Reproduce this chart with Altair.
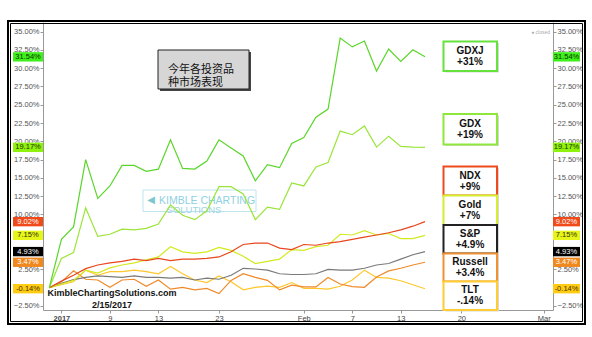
import altair as alt
import pandas as pd

# ---------------- data ----------------
day_index = list(range(32))
series_names = ["TLT", "Russell", "S&P", "Gold", "NDX", "GDX", "GDXJ"]
gdxj = [0, 6.6, 8.3, 17.5, 12.2, 13.9, 16.7, 16.7, 15.9, 16.2, 20.2, 16.3, 16.2, 17.3, 20.2, 19.1,
        18.0, 14.6, 16.8, 16.4, 19.7, 20.5, 23.3, 24.4, 34.1, 32.9, 33.7, 29.6, 32.6, 30.9, 32.5, 31.54]
gdx = [0, 4.0, 4.8, 10.9, 7.0, 7.3, 8.0, 7.9, 8.1, 8.7, 11.3, 9.9, 9.3, 10.5, 13.8, 13.8,
       12.8, 9.3, 11.0, 10.7, 14.3, 13.9, 16.5, 17.1, 21.4, 20.9, 22.1, 19.2, 20.7, 19.3, 19.2, 19.17]
ndx = [0, 0.9, 1.7, 2.6, 3.1, 3.4, 3.6, 3.9, 3.7, 4.0, 3.7, 3.9, 3.9, 4.0, 4.2, 4.9,
       5.9, 6.1, 6.1, 5.4, 5.2, 5.9, 5.8, 6.1, 6.3, 6.6, 6.9, 7.2, 7.5, 7.9, 8.4, 9.02]
gold = [0, 0.5, 1.0, 2.4, 2.0, 2.7, 3.1, 3.4, 3.8, 4.2, 5.6, 4.9, 4.7, 4.9, 5.5, 5.1,
        4.3, 3.3, 3.6, 3.9, 5.2, 5.1, 5.6, 5.8, 7.3, 7.2, 7.8, 7.2, 7.4, 6.7, 6.7, 7.15]
spx = [0, 0.6, 1.1, 1.4, 1.6, 1.5, 1.4, 1.6, 1.4, 1.4, 1.3, 1.4, 1.05, 1.3, 1.15, 1.7,
       2.65, 2.55, 2.4, 1.9, 1.8, 1.8, 1.9, 2.5, 2.4, 2.4, 2.65, 3.1, 3.3, 3.9, 4.5, 4.93]
rut = [0, 0.8, 2.3, 1.15, 1.05, 0.05, 1.05, 1.15, 0.2, 1.05, -0.2, 0.05, -0.3, -0.1, -0.8, 1.0,
       1.9, 1.4, 1.0, -0.3, 0.35, 0.1, 0.1, 1.4, 0.5, 0.15, 0.05, 1.45, 2.3, 2.65, 3.1, 3.47]
tlt = [0, 0.4, 0.8, 2.4, 1.7, 2.2, 2.2, 2.4, 2.2, 1.9, 2.9, 1.9, 1.05, 0.7, 1.6, 0.8,
       -0.3, 0.05, 0.2, 0.05, 0.7, -0.1, -0.1, -0.2, 0.2, 1.05, 2.4, 1.4, 1.3, 0.95, 0.4, -0.14]

tag_values = [31.54, 19.17, 9.02, 7.15, 4.93, 3.47, -0.14]
tag_labels = ["31.54%", "19.17%", "9.02%", "7.15%", "4.93%", "3.47%", "-0.14%"]

box_names = ["GDXJ", "GDX", "NDX", "Gold", "S&P", "Russell", "TLT"]
box_changes = ["+31%", "+19%", "+9%", "+7%", "+4.9%", "+3.4%", "-.14%"]

y_ticks = [-2.5, 0, 2.5, 5, 7.5, 10, 12.5, 15, 17.5, 20, 22.5, 25, 27.5, 30, 32.5, 35]
y_hidden_labels = [0, 5, 7.5]   # covered by the value tags
x_tick_pos = [1, 5, 9, 14, 21, 25, 29, 34, 40.8]
x_tick_labels = ["2017", "9", "13", "23", "Feb", "7", "13", "20", "Mar"]

title_lines = ["今年各投资品", "种市场表现"]
credit_lines = ["KimbleChartingSolutions.com", "2/15/2017"]

# ---------------- styles / layout ----------------
line_colors = ["#ffc72c", "#f0892a", "#7a7a7a", "#d2ea1e", "#e8461e", "#9be53a", "#5ad62a"]
tag_bg = ["#3ef01a", "#8ef20c", "#f04a1a", "#e6f51a", "#000000", "#f0881e", "#ffcc11"]
tag_fg = ["#113300", "#223300", "#ffffff", "#333300", "#ffffff", "#ffffff", "#443300"]
box_border = ["#66e23c", "#8ee83c", "#ee4a1e", "#d8ec30", "#222222", "#f09030", "#ffcc33"]
box_tops = [41.5, 114, 166.5, 195.5, 225, 253.5, 281.5]
box_bottoms = [71, 144.5, 195.5, 225, 253.5, 281.5, 310]

OX, OY = 43, 22          # page position of plot origin
W, H = 510, 288
FONT = "Liberation Sans"
CJK = "Noto Sans CJK SC"

rows = []
for name, vals in zip(series_names, [tlt, rut, spx, gold, ndx, gdx, gdxj]):
    for i, v in zip(day_index, vals):
        rows.append({"idx": i, "value": v, "series": name})
df = pd.DataFrame(rows)

tags = pd.DataFrame({"value": tag_values, "label": tag_labels, "bg": tag_bg, "fg": tag_fg})
one = pd.DataFrame({"a": [0]})

YS = alt.Scale(domain=[-3.05, 36.3], nice=False, zero=False)
XS = alt.Scale(domain=[-0.52, 41.56], nice=False, zero=False)

label_expr = "{" + ",".join(f"'{p}':'{l}'" for p, l in zip(x_tick_pos, x_tick_labels)) + "}[datum.value]"
x_enc = alt.X("idx:Q", scale=XS, title=None,
              axis=alt.Axis(values=x_tick_pos, labelExpr=label_expr, grid=False,
                            domainColor="#999", tickColor="#999", tickSize=3,
                            labelFont=FONT, labelFontSize=7.5, labelColor="#444", labelPadding=1,
                            labelFontWeight={"condition": {"test": "datum.value == 1", "value": "bold"},
                                             "value": "normal"}))

hidden_test = " || ".join(f"datum.value == {v}" for v in y_hidden_labels)
y_label_expr = f"({hidden_test}) ? '' : format(datum.value,'.2f')+'%'"

def y_axis(orient):
    return alt.Axis(orient=orient, values=y_ticks, labelExpr=y_label_expr,
                    grid=False, domainColor="#999", tickColor="#999", tickSize=3,
                    labelFont=FONT, labelFontSize=7.5, labelColor="#555", labelPadding=1, title=None)

def prect(x1, y1, x2, y2, **kw):
    return alt.Chart(one).mark_rect(**kw).encode(
        x=alt.value(x1 - OX), x2=alt.value(x2 - OX), y=alt.value(y1 - OY), y2=alt.value(y2 - OY))

def ptext(x, y, text, **kw):
    return alt.Chart(one).mark_text(text=text, **kw).encode(x=alt.value(x - OX), y=alt.value(y - OY))

layers = []

# Kimble logo watermark
layers.append(prect(143, 190, 256, 211.5, fill="#ffffff", fillOpacity=0.6, stroke="#bfe4ee", strokeWidth=1))
layers.append(ptext(207, 201, "KIMBLE CHARTING", font=FONT, fontSize=10.5, color="#8fd0e2"))
layers.append(ptext(194, 209.5, "SOLUTIONS", font=FONT, fontSize=9.5, color="#9bd5e4"))
layers.append(ptext(151, 200, "◀", font="DejaVu Sans", fontSize=10, color="#7cc8cc"))

# lines
lines = alt.Chart(df).mark_line(strokeWidth=1.2).encode(
    x=x_enc,
    y=alt.Y("value:Q", scale=YS, axis=y_axis("left")),
    color=alt.Color("series:N", scale=alt.Scale(domain=series_names, range=line_colors), legend=None),
)
right_axis = alt.Chart(df).mark_line(opacity=0).encode(
    x=x_enc,
    y=alt.Y("value:Q", scale=YS, axis=y_axis("right")),
    detail="series:N",
)
layers += [lines, right_axis]

# value tags on both axes
for (xa, xb) in [(13, 43), (553, 580)]:
    layers.append(alt.Chart(tags).transform_calculate(
        lo="datum.value - 0.64", hi="datum.value + 0.64").mark_rect().encode(
        x=alt.value(xa - OX), x2=alt.value(xb - OX),
        y=alt.Y("lo:Q", scale=YS, axis=None), y2="hi:Q",
        fill=alt.Color("bg:N", scale=None)))
    layers.append(alt.Chart(tags).mark_text(font=FONT, fontSize=7.5).encode(
        x=alt.value((xa + xb) / 2 - OX),
        y=alt.Y("value:Q", scale=YS, axis=None),
        text="label:N", color=alt.Color("fg:N", scale=None)))

# title box
layers.append(prect(160, 52, 251, 91, fill="#444444"))
layers.append(prect(158, 50, 249, 89, fill="#d6d6d6", stroke="#222222", strokeWidth=1))
layers.append(ptext(168, 70, title_lines, font=CJK, fontSize=11, color="#111111", align="left",
                    lineHeight=13, baseline="middle"))

# label boxes
for name, chg, col, t, b in zip(box_names, box_changes, box_border, box_tops, box_bottoms):
    layers.append(prect(445.5, t + 1.5, 499, b + 1.5, fill="#d8d8d8"))
    layers.append(prect(443.5, t, 497, b, fill="#ffffff", stroke=col, strokeWidth=2))
    c = (t + b) / 2
    layers.append(ptext(470, c - 5.5, name, font=FONT, fontSize=10, fontWeight="bold", color="#111111"))
    layers.append(ptext(470, c + 5.5, chg, font=FONT, fontSize=10, fontWeight="bold", color="#111111"))

# credit
layers.append(ptext(112, 293, credit_lines[0], font=FONT, fontSize=9, fontWeight="bold", color="#111111"))
layers.append(ptext(112, 305, credit_lines[1], font=FONT, fontSize=9, fontWeight="bold", color="#111111"))

# closed marker
layers.append(ptext(550, 32, "● closed", font=FONT, fontSize=5, color="#aaaaaa", align="right"))

# frame
layers.append(prect(8, 21, 585, 324, filled=False, stroke="#000000", strokeWidth=2))
layers.append(prect(10.5, 23.5, 582.5, 321.5, filled=False, stroke="#000000", strokeWidth=1))

chart = alt.layer(*layers).resolve_axis(y="independent").properties(
    width=W, height=H,
    padding={"left": OX, "top": OY, "right": 592 - OX - W, "bottom": 337 - OY - H},
    autosize=alt.AutoSizeParams(type="none"),
    background="#ffffff",
).configure_view(stroke=None)

chart.save("out.html", embed_options={"renderer": "svg", "actions": False})
